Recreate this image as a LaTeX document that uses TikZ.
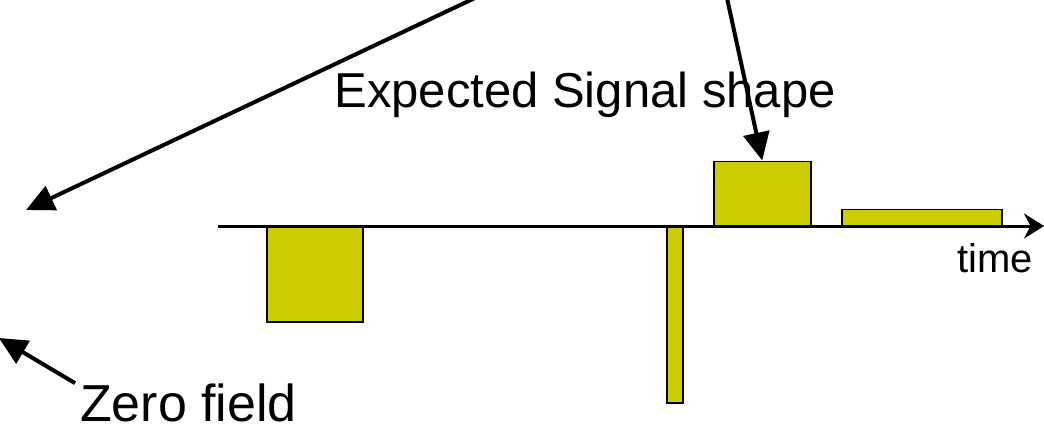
\documentclass[tikz,border=0pt]{standalone}
\usepackage{fontspec}
\setmainfont{Liberation Sans}
\usetikzlibrary{arrows.meta}
\definecolor{pulsefill}{RGB}{204,204,0}

\begin{document}
\begin{tikzpicture}[
    x=1pt, y=-1pt,
    label/.style={inner sep=0pt},
    pulse/.style={
        draw,
        fill=pulsefill,
        line width=1.5pt,
        inner sep=0pt
    },
    pointer/.style={-{Triangle[length=28pt,width=26pt]}, line width=4pt},
    axis/.style={-{Stealth[length=20pt,width=25pt]}, line width=3pt}
]
\useasboundingbox (0,0) rectangle (1044,431);

\node (neg) [pulse, anchor=north west, minimum width=96pt, minimum height=95pt]
    at (266,226) {};

\node (spike) [pulse, anchor=north west, minimum width=16pt, minimum height=176pt]
    at (666,226) {};

\node (pos) [pulse, anchor=south west, minimum width=97pt, minimum height=64pt]
    at (713,226) {};

\node (tail) [pulse, anchor=south west, minimum width=160pt, minimum height=16pt]
    at (841,226) {};

\coordinate (origin) at (218,226);
\coordinate (tend) at (1044,226);
\draw[axis] (origin) -- (tend);

\node (title) [label, anchor=base] at (585,107)
    {\fontsize{49}{58}\selectfont Expected Signal shape};

\node (time) [label, anchor=base east] at (1033,272)
    {\fontsize{40}{48}\selectfont time};

\node (zero) [label, anchor=base west] at (80,421)
    {\fontsize{52}{62}\selectfont Zero field};

\coordinate (srcleft) at (475,-2);
\coordinate (tipleft) at (26,210);
\coordinate (srcpos) at (727,-2);
\coordinate (tipzero) at (-1,338);

\draw[pointer] (srcleft) -- (tipleft);
\draw[pointer] (srcpos) -- (pos.north);
\draw[pointer] ([xshift=-5pt]zero.north west) -- (tipzero);

\end{tikzpicture}
\end{document}
